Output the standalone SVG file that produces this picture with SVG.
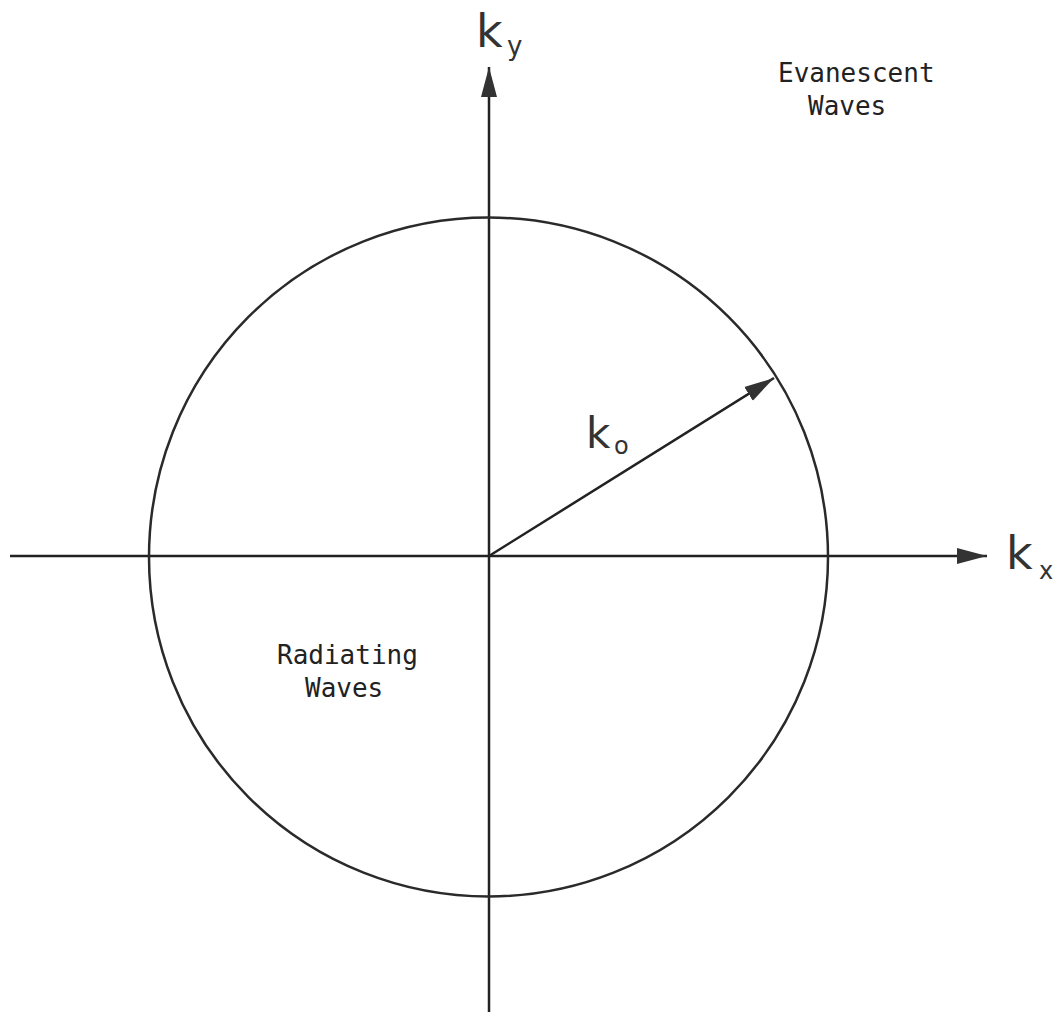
<svg xmlns="http://www.w3.org/2000/svg" width="1058" height="1020" viewBox="0 0 1058 1020">
<style>
.ax{stroke:#222;stroke-width:2.5;fill:none}
.circ{stroke:#2a2a2a;stroke-width:2.5;fill:none}
.lbl{font-family:"DejaVu Sans","Liberation Sans",sans-serif;fill:#333}
.txt{font-family:"DejaVu Sans Mono","Liberation Mono",monospace;font-size:26px;fill:#222}
</style>
<defs>
<marker id="ah" markerWidth="32" markerHeight="18" refX="30" refY="9" orient="auto" markerUnits="userSpaceOnUse">
<path d="M0,1 L30,9 L0,17 Z" fill="#333"/>
</marker>
</defs>
<rect width="1058" height="1020" fill="#fff"/>
<g id="connectors">
<line class="ax" x1="10" y1="556" x2="987" y2="556" marker-end="url(#ah)"/>
<line class="ax" x1="489" y1="1012" x2="489" y2="67" marker-end="url(#ah)"/>
<line class="ax" x1="489" y1="556" x2="774" y2="378" stroke="#444" marker-end="url(#ah)"/>
</g>
<g id="circle"><circle class="circ" cx="488.5" cy="557" r="339.5"/></g>
<g id="ky"><text class="lbl" x="476" y="47" font-size="46">k</text><text class="lbl" x="507" y="55" font-size="26">y</text></g>
<g id="kx"><text class="lbl" x="1006" y="569" font-size="46">k</text><text class="lbl" x="1039" y="579" font-size="24">x</text></g>
<g id="ko"><text class="lbl" x="586" y="448" font-size="42">k</text><text class="lbl" x="614" y="454" font-size="24">o</text></g>
<g id="evanescent"><text class="txt" x="778" y="82">Evanescent</text><text class="txt" x="808" y="115">Waves</text></g>
<g id="radiating"><text class="txt" x="277" y="664">Radiating</text><text class="txt" x="305" y="697">Waves</text></g>
</svg>
